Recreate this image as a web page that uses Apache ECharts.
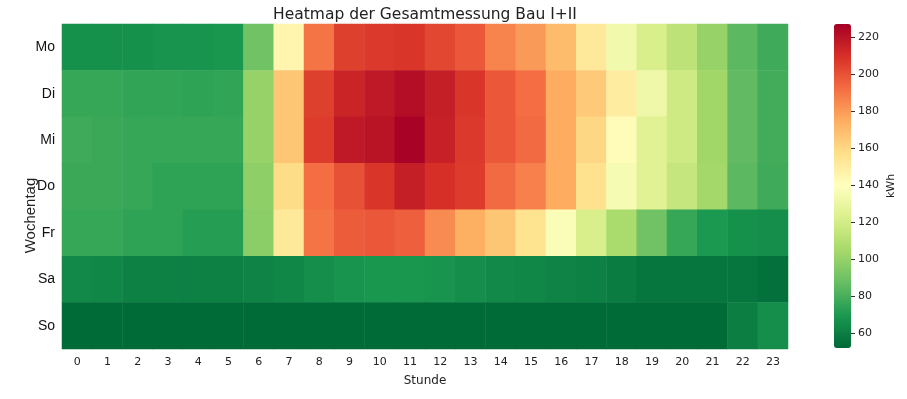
<!DOCTYPE html>
<html>
<head>
<meta charset="utf-8">
<script src="https://cdn.jsdelivr.net/npm/echarts@6/dist/echarts.min.js"></script>
<style>
  html, body { margin: 0; padding: 0; background: #fff; }
  #chart { width: 907px; height: 399px; }
</style>
</head>
<body>
<div id="chart"></div>
<script>
var hours = ['0','1','2','3','4','5','6','7','8','9','10','11','12','13','14','15','16','17','18','19','20','21','22','23'];
var days = ['Mo','Di','Mi','Do','Fr','Sa','So'];
var colorbarTicks = [60, 80, 100, 120, 140, 160, 180, 200, 220];

// kWh per weekday, hour 0..23
var mo = [67, 67, 67, 68, 68, 69, 90, 145, 190, 205, 207, 208, 203, 198, 186, 180, 170, 152, 133, 122, 112, 100, 85, 78];
var di = [76, 76, 75, 75, 74, 75, 100, 166, 205, 214, 218, 222, 216, 208, 198, 192, 175, 165, 150, 132, 118, 103, 86, 79];
var mi = [78, 77, 76, 76, 76, 76, 100, 166, 206, 218, 220, 226, 215, 207, 198, 193, 175, 160, 142, 125, 118, 103, 86, 79];
var dO = [77, 77, 76, 74, 74, 74, 98, 158, 192, 200, 208, 216, 210, 206, 193, 187, 175, 156, 135, 125, 115, 104, 85, 78];
var fr = [76, 76, 74, 74, 72, 72, 97, 152, 190, 197, 198, 196, 184, 174, 166, 155, 137, 122, 106, 90, 76, 70, 67, 66];
var sa = [64, 63, 61, 61, 61, 61, 62, 63, 66, 68, 69, 69, 68, 66, 64, 63, 62, 61, 59, 57, 57, 57, 57, 55];
var so = [53, 53, 53, 53, 53, 53, 53, 53, 53, 53, 53, 53, 53, 53, 53, 53, 53, 53, 53, 53, 53, 53, 60, 66];

var rows = [mo, di, mi, dO, fr, sa, so];
var cells = [];
rows.forEach(function (row, d) {
    row.forEach(function (v, h) {
        cells.push([h, d, v]);
    });
});

var chart = echarts.init(document.getElementById('chart'));

var option = {
    backgroundColor: '#fff',
    animation: false,
    title: {
        text: 'Heatmap der Gesamtmessung Bau I+II',
        left: 420,
        textAlign: 'center',
        top: 2,
        textStyle: { fontFamily: 'DejaVu Sans', fontSize: 15.5, fontWeight: 'normal', color: '#222' }
    },
    grid: [
        { left: 62, right: 119, top: 24, bottom: 50 },
        // thin grid right of the colour bar, only used for its tick axis
        { left: 851, width: 30, top: 24, bottom: 51 }
    ],
    xAxis: [{
        type: 'category',
        data: hours,
        gridIndex: 0,
        name: 'Stunde',
        nameLocation: 'middle',
        nameGap: 26,
        nameTextStyle: { fontFamily: 'DejaVu Sans', fontSize: 12, color: '#222' },
        axisLine: { show: false },
        axisTick: { alignWithLabel: true, length: 4, lineStyle: { color: '#333' } },
        axisLabel: { fontFamily: 'DejaVu Sans', fontSize: 11, color: '#222', margin: 8 },
        splitLine: { show: false }
    }, {
        type: 'value',
        gridIndex: 1,
        show: false
    }],
    yAxis: [{
        type: 'category',
        data: days,
        inverse: true,
        gridIndex: 0,
        name: 'Wochentag',
        nameLocation: 'middle',
        nameGap: 24,
        nameMoveOverlap: false,
        nameRotate: 90,
        nameTextStyle: { fontFamily: 'Liberation Sans', fontSize: 15, color: '#222', padding: [0, 58, 0, 0] },
        axisLine: { show: false },
        axisTick: { alignWithLabel: true, length: 4, lineStyle: { color: '#333' } },
        axisLabel: { fontFamily: 'Liberation Sans', fontSize: 14, color: '#111', margin: 7 },
        splitLine: { show: false }
    }, {
        type: 'value',
        gridIndex: 1,
        position: 'left',
        z: 20,
        min: 52,
        max: 227,
        name: 'kWh',
        nameLocation: 'middle',
        nameGap: -46,
        nameMoveOverlap: false,
        nameRotate: 90,
        nameTextStyle: { fontFamily: 'DejaVu Sans', fontSize: 11, color: '#222' },
        axisLine: { show: false },
        splitLine: { show: false },
        axisTick: { show: true, inside: true, length: 4, customValues: colorbarTicks, lineStyle: { color: '#333', width: 1 } },
        axisLabel: { inside: true, fontFamily: 'DejaVu Sans', fontSize: 11, color: '#222', margin: 7, customValues: colorbarTicks }
    }],
    visualMap: {
        type: 'continuous',
        min: 52,
        max: 227,
        calculable: false,
        hoverLink: false,
        seriesIndex: 0,
        orient: 'vertical',
        left: 819,
        top: 9,
        itemWidth: 17,
        itemHeight: 324,
        text: null,
        inRange: {
            color: ['#006837', '#1a9850', '#66bd63', '#a6d96a', '#d9ef8b', '#ffffbf',
                    '#fee08b', '#fdae61', '#f46d43', '#d73027', '#a50026']
        }
    },
    series: [{
        type: 'heatmap',
        xAxisIndex: 0,
        yAxisIndex: 0,
        data: cells,
        itemStyle: { borderWidth: 0 },
        emphasis: { disabled: true }
    }]
};

chart.setOption(option);
window.addEventListener('resize', chart.resize);
</script>
</body>
</html>
